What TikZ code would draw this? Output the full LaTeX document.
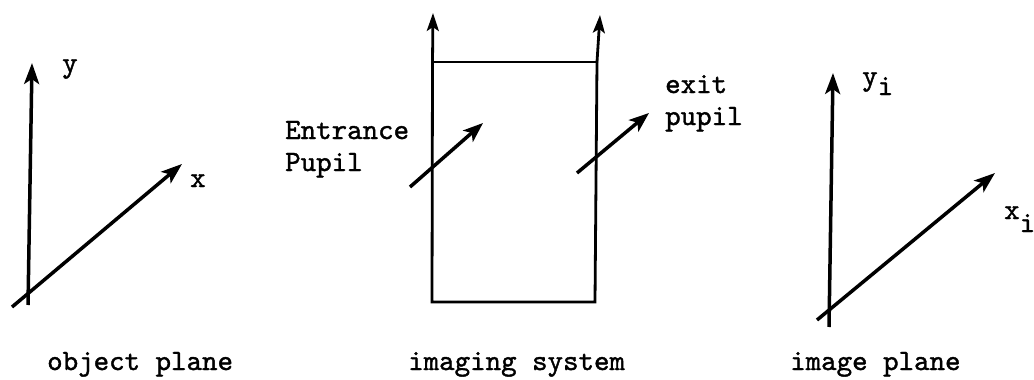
\documentclass[tikz,border=0pt]{standalone}
\usepackage{fontspec}
\newfontfamily\twfont[FakeBold=1.3]{lmmono10-regular.otf}
\usetikzlibrary{arrows.meta}
\tikzset{
  axisarrow/.style={line width=3.5pt, -{Stealth[length=21pt,width=15pt,inset=5pt]}},
  pupilarrow/.style={line width=3.5pt, -{Stealth[length=20pt,width=15pt,inset=5pt]}},
  boxarrow/.style={line width=2.8pt, -{Stealth[length=18pt,width=12pt,inset=4pt]}},
  boxline/.style={line width=2.8pt, line cap=round},
  lab/.style={font=\fontsize{29.5}{32}\selectfont\twfont, inner sep=0pt, anchor=base west},
}
\begin{document}
\begin{tikzpicture}[x=1pt,y=-1pt]
\useasboundingbox (0,0) rectangle (1034,380);
% ---------- object plane ----------
\coordinate (oyb) at (28,305);
\coordinate (oyt) at (32,63);
\coordinate (oxb) at (12,307);
\coordinate (oxt) at (182,164);
\draw[axisarrow] (oyb) -- (oyt);
\draw[axisarrow] (oxb) -- (oxt);
\node[lab] (ylab) at (62,72) {y};
\node[lab] (xlab) at (190,187) {x};
% ---------- imaging system ----------
\coordinate (bl) at (432,302);
\coordinate (br) at (595,302);
\coordinate (tl) at (432.5,62);
\coordinate (tr) at (597,62);
\coordinate (ltip) at (433,13);
\coordinate (rtip) at (600,15);
\draw[boxline] (tl) -- (bl) -- (br) -- (tr);
\draw[boxline] (tl) -- (tr);
\draw[boxarrow] (tl) -- (ltip);
\draw[boxarrow] (tr) -- (rtip);
\coordinate (ena) at (410,187);
\coordinate (enb) at (483,123);
\coordinate (exa) at (577,173);
\coordinate (exb) at (649,113);
\draw[pupilarrow] (ena) -- (enb);
\draw[pupilarrow] (exa) -- (exb);
\node[lab] (ent1) at (285,139) {Entrance};
\node[lab] (ent2) at (285,171) {Pupil};
\node[lab] (ex1) at (665,93) {exit};
\node[lab] (ex2) at (665,125) {pupil};
% ---------- image plane ----------
\coordinate (iyb) at (829,327);
\coordinate (iyt) at (833,73);
\coordinate (ixb) at (817,320);
\coordinate (ixt) at (995,173);
\draw[axisarrow] (iyb) -- (iyt);
\draw[axisarrow] (ixb) -- (ixt);
\node[lab] (yilab) at (862,85) {y\raisebox{-10pt}{i}};
\node[lab] (xilab) at (1004,219) {x\raisebox{-13pt}{i}};
% ---------- captions ----------
\node[lab] (cap1) at (47,370) {object plane};
\node[lab] (cap2) at (408,370) {imaging system};
\node[lab] (cap3) at (790,370) {image plane};
\end{tikzpicture}
\end{document}
